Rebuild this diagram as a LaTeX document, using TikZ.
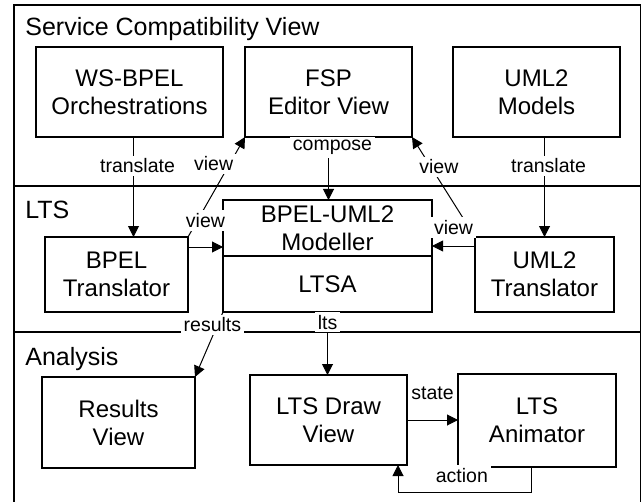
\documentclass[tikz,border=0pt]{standalone}
\usepackage{fontspec}
\setmainfont{Liberation Sans}
\usetikzlibrary{arrows.meta,positioning}

\begin{document}
\begin{tikzpicture}[x=0.5pt, y=-0.5pt,
    box/.style = {draw, line width=1pt, fill=white, align=center, inner sep=0pt,
                  outer sep=0pt, font=\fontsize{12}{14}\selectfont},
    sect/.style = {anchor=base west, inner sep=0pt, font=\fontsize{12.5}{14}\selectfont},
    lbl/.style = {fill=white, inner sep=1.5pt, font=\fontsize{9.75}{11}\selectfont},
    arr/.style = {-{Triangle[length=5.5pt,width=5.5pt]}, line width=0.5pt}]
  \useasboundingbox (0,0) rectangle (641,502);

  % frame and the three layers
  \draw[line width=1pt] (14,5) rectangle (641,512);
  \draw[line width=1pt] (14,186) -- (641,186);
  \draw[line width=1pt] (14,332) -- (641,332);
  \node[sect] (svc) at (25,36) {Service Compatibility View};
  \node[sect] (lts) at (25,218) {LTS};
  \node[sect] (ana) at (25,365) {Analysis};

  % service compatibility view
  \node[box, minimum width=93.5pt, minimum height=45pt] (wsbpel) at (129.5,92)
    {WS-BPEL\\Orchestrations};
  \node[box, minimum width=83.5pt, minimum height=45pt, right=11pt of wsbpel] (fsp)
    {FSP\\Editor View};
  \node[box, minimum width=83.5pt, minimum height=45pt, right=20.5pt of fsp] (umlmod)
    {UML2\\Models};

  % lts layer
  \node[box, minimum width=71.5pt, minimum height=37.5pt] (bpeltr) at (116.5,274.5)
    {BPEL\\Translator};
  \node[box, minimum width=104.5pt, minimum height=28pt] (modeller) at (327.5,228)
    {BPEL-UML2\\Modeller};
  \node[box, minimum width=104.5pt, minimum height=28pt, below=0pt of modeller] (ltsa)
    {LTSA};
  \node[box, minimum width=69.5pt, minimum height=37.5pt] (umltr) at (544.5,274.5)
    {UML2\\Translator};

  % analysis layer
  \node[box, minimum width=76.5pt, minimum height=45.5pt] (resview) at (118.5,422.5)
    {Results\\View};
  \node[box, minimum width=78.5pt, minimum height=45pt] (drawview) at (328.5,420)
    {LTS Draw\\View};
  \node[box, minimum width=79pt, minimum height=46.5pt, right=25.5pt of drawview] (animator)
    {LTS\\Animator};

  % translate
  \coordinate (tl) at ([xshift=2pt]wsbpel.south);
  \draw[arr] (tl) -- (tl |- bpeltr.north)
    node[lbl, pos=.29, xshift=2pt] {translate};
  \draw[arr] (umltr.north |- umlmod.south) -- (umltr.north)
    node[lbl, pos=.29, xshift=2pt] {translate};

  % compose
  \draw[arr] (fsp.south) -- (fsp.south |- modeller.north)
    node[lbl, pos=.17, xshift=2pt] {compose};

  % views
  \draw[arr] (bpeltr.north east) -- (fsp.south west)
    node[lbl, pos=.73, xshift=-8pt] {view};
  \draw[arr] (umltr.north west) -- (fsp.south east)
    node[lbl, pos=.7, xshift=4pt] {view};
  \coordinate (bv) at ([yshift=-5pt]bpeltr.north east);
  \coordinate (uv) at ([yshift=-4.5pt]umltr.north west);
  \draw[arr] (bv) -- (bv -| modeller.west)
    node[lbl, midway, above=8pt] {view};
  \draw[arr] (uv) -- (uv -| modeller.east)
    node[lbl, midway, above=4pt] {view};

  % results and lts
  \draw[arr] (ltsa.south west) -- (resview.north east)
    node[lbl, pos=.2, xshift=-2.5pt] {results};
  \draw[arr] (ltsa.south) -- (ltsa.south |- drawview.north)
    node[lbl, pos=.16] {lts};

  % state and action
  \draw[arr] (drawview.east) -- (animator.west)
    node[lbl, midway, above=8.5pt] {state};
  \draw[arr] ([xshift=-3pt]animator.south) -- ++(0,26)
    -| ([xshift=-4.5pt]drawview.south east)
    node[lbl, pos=.26, above=3.4pt] {action};
\end{tikzpicture}
\end{document}
